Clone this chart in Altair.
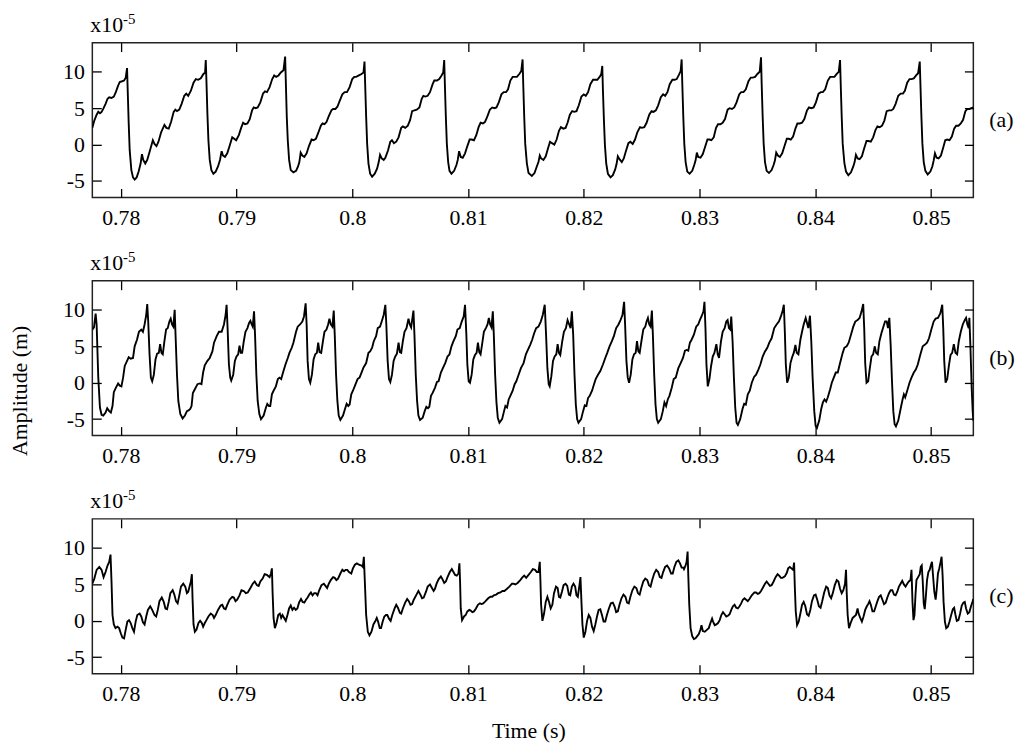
import altair as alt
import pandas as pd

# Time base: readings are stored as sample indices of a 35 kHz record starting at t0
T0 = 0.78
FS = 35000.0

# Panel (a): (sample index, amplitude in 1e-5 m)
a_pts = [
    (-86, 2.3), (-80, 3.3), (-73, 4.1), (-68, 4.5), (-63, 4.3), (-58, 4.5), (-53, 4.9), (-46, 5.6),
    (-40, 6.3), (-35, 6.5), (-28, 6.4), (-21, 6.6), (-15, 7.2), (-8, 8.1), (-3, 8.6), (4, 8.7),
    (10, 8.8), (15, 9.2), (19, 10.5),
    (21, 7.4), (24, 2.9), (27, -0.8), (32, -3.5), (37, -4.5), (42, -4.8), (48, -4.5), (54, -3.7),
    (60, -2.6), (64, -1.3), (68, -2.1), (74, -2.6), (80, -2.1), (87, -1.0), (97, 0.6), (102, 0.1),
    (108, -0.2), (114, 0.4), (122, 1.7), (132, 2.7), (138, 2.3), (145, 2.2), (152, 3.1), (160, 4.5),
    (165, 4.8), (170, 4.6), (177, 4.8), (184, 5.6), (192, 6.7), (198, 7.0), (204, 6.7), (212, 7.4),
    (220, 8.5), (227, 9.0), (234, 8.9), (242, 9.1), (250, 9.7), (255, 9.9), (257, 11.6),
    (259, 8.8), (262, 4.2), (265, 0.6), (269, -2.1), (274, -3.5), (280, -4.0), (287, -3.7), (294, -3.0),
    (300, -2.1), (305, -0.9), (309, -1.5), (315, -1.7), (322, -1.2), (329, -0.2), (337, 1.0), (343, 0.8),
    (349, 0.6), (357, 1.3), (364, 2.3), (370, 3.0), (376, 2.8), (383, 2.9), (390, 3.5), (397, 4.7),
    (402, 5.1), (408, 5.0), (414, 5.1), (422, 5.8), (430, 7.0), (436, 7.3), (442, 7.2), (450, 7.9),
    (458, 9.0), (464, 9.5), (470, 9.3), (477, 9.5), (484, 9.9), (492, 10.2), (497, 12.1),
    (499, 8.8), (502, 3.8), (505, 0.6), (509, -2.1), (514, -3.5), (522, -3.8), (530, -3.6), (536, -3.0),
    (540, -2.4), (544, -1.1), (549, -1.5), (555, -1.7), (562, -1.2), (569, -0.2), (577, 0.7), (583, 0.6),
    (590, 0.8), (597, 1.6), (605, 2.6), (610, 2.9), (616, 2.8), (622, 3.1), (629, 3.9), (637, 4.7),
    (642, 4.9), (649, 4.9), (655, 5.2), (662, 6.0), (670, 6.9), (677, 7.2), (684, 7.2), (692, 7.9),
    (700, 9.0), (706, 9.3), (712, 9.3), (720, 9.5), (728, 9.7), (734, 9.9), (737, 11.4),
    (739, 8.3), (742, 3.8), (745, 0.1), (749, -2.6), (754, -4.0), (760, -4.4), (768, -4.0), (775, -3.3),
    (780, -2.4), (784, -1.4), (789, -1.9), (795, -2.1), (800, -1.8), (808, -0.8), (815, 0.4), (820, 0.6),
    (826, 0.2), (833, 0.4), (840, 1.0), (848, 2.3), (853, 2.5), (860, 2.3), (868, 2.6), (875, 3.4),
    (881, 4.6), (888, 4.7), (895, 4.8), (903, 5.1), (910, 6.3), (915, 6.7), (921, 6.6), (928, 6.7),
    (935, 7.2), (943, 8.3), (948, 8.8), (956, 8.8), (963, 9.0), (970, 9.5), (975, 9.9), (978, 11.6),
    (980, 8.3), (983, 3.8), (986, 0.1), (990, -2.4), (994, -3.6), (1000, -4.0), (1008, -3.6), (1015, -2.8),
    (1019, -2.1), (1023, -0.9), (1028, -1.7), (1034, -1.8), (1041, -1.2), (1048, -0.2), (1055, 0.7),
    (1061, 0.7), (1068, 0.6), (1075, 1.3), (1082, 2.4), (1088, 3.0), (1095, 2.9), (1101, 3.1),
    (1108, 3.8), (1116, 4.8), (1123, 5.1), (1130, 5.0), (1136, 5.1), (1143, 5.8), (1151, 6.9),
    (1158, 7.2), (1165, 7.2), (1171, 7.6), (1178, 8.8), (1185, 9.3), (1191, 9.3), (1198, 9.3),
    (1205, 9.7), (1211, 10.1), (1215, 11.7),
    (1217, 8.3), (1220, 3.8), (1223, 0.1), (1228, -2.6), (1233, -3.9), (1243, -4.3), (1251, -3.9),
    (1258, -3.0), (1263, -2.4), (1267, -1.5), (1271, -1.9), (1278, -2.1), (1285, -1.6), (1292, -0.5),
    (1298, 0.4), (1304, 0.2), (1311, 0.0), (1318, 0.7), (1325, 1.9), (1331, 2.4), (1338, 2.2),
    (1345, 2.3), (1351, 3.0), (1358, 4.1), (1365, 4.6), (1371, 4.5), (1378, 4.6), (1385, 5.4),
    (1393, 6.6), (1400, 6.9), (1406, 6.7), (1413, 7.2), (1420, 8.3), (1428, 8.9), (1435, 8.9),
    (1441, 8.9), (1448, 9.3), (1453, 9.7), (1456, 10.8),
    (1458, 7.4), (1461, 3.3), (1464, -0.1), (1468, -2.6), (1473, -4.0), (1481, -4.5), (1488, -4.2),
    (1495, -3.4), (1499, -2.7), (1503, -1.6), (1508, -2.0), (1515, -2.4), (1521, -1.9), (1528, -0.8),
    (1535, 0.2), (1541, 0.4), (1548, 0.1), (1555, 0.7), (1562, 1.7), (1570, 2.4), (1576, 2.3),
    (1583, 2.4), (1590, 3.0), (1598, 4.1), (1605, 4.6), (1611, 4.5), (1618, 4.7), (1625, 5.4),
    (1633, 6.5), (1640, 6.9), (1646, 6.7), (1653, 7.2), (1660, 8.3), (1668, 8.9), (1675, 8.9),
    (1681, 9.0), (1688, 9.6), (1693, 10.1), (1696, 11.7),
    (1698, 8.3), (1701, 3.8), (1704, 0.1), (1708, -2.4), (1713, -3.7), (1720, -4.0), (1728, -3.6),
    (1734, -2.8), (1738, -2.2), (1742, -1.1), (1746, -1.7), (1753, -1.8), (1760, -1.3), (1767, -0.3),
    (1774, 0.7), (1780, 0.7), (1786, 0.6), (1793, 1.0), (1800, 2.3), (1806, 2.8), (1813, 2.8),
    (1820, 3.0), (1827, 3.5), (1835, 4.8), (1841, 5.0), (1848, 4.9), (1855, 5.1), (1862, 5.8),
    (1870, 6.9), (1876, 7.2), (1883, 7.2), (1890, 7.6), (1898, 8.7), (1905, 9.2), (1911, 9.2),
    (1918, 9.3), (1925, 9.7), (1932, 10.0), (1936, 12.0),
    (1938, 8.3), (1941, 3.8), (1944, 0.1), (1948, -2.4), (1953, -3.6), (1960, -3.9), (1968, -3.5),
    (1974, -2.8), (1978, -2.2), (1982, -1.1), (1987, -1.5), (1993, -1.7), (2000, -1.2), (2007, -0.2),
    (2014, 0.8), (2020, 0.8), (2026, 0.7), (2033, 1.1), (2040, 2.2), (2046, 2.9), (2053, 2.9),
    (2060, 3.0), (2067, 3.5), (2075, 4.7), (2081, 5.1), (2088, 5.0), (2095, 5.1), (2102, 5.8),
    (2110, 7.0), (2117, 7.2), (2123, 7.2), (2130, 7.6), (2138, 8.8), (2145, 9.3), (2151, 9.3),
    (2158, 9.3), (2165, 9.7), (2171, 10.0), (2175, 11.6),
    (2177, 8.3), (2180, 3.8), (2183, 0.1), (2188, -2.5), (2193, -3.7), (2200, -4.2), (2208, -3.8),
    (2215, -3.0), (2219, -2.4), (2223, -1.4), (2228, -1.9), (2234, -2.0), (2241, -1.6), (2248, -0.5),
    (2255, 0.5), (2261, 0.5), (2268, 0.4), (2275, 1.0), (2282, 2.0), (2288, 2.5), (2295, 2.4),
    (2302, 2.6), (2309, 3.3), (2316, 4.6), (2323, 4.7), (2330, 4.7), (2336, 4.9), (2343, 5.6),
    (2351, 6.7), (2358, 7.0), (2365, 7.0), (2371, 7.4), (2378, 8.5), (2385, 9.0), (2391, 9.0),
    (2398, 9.1), (2405, 9.5), (2411, 9.8), (2416, 11.4),
    (2418, 8.3), (2421, 3.8), (2424, 0.1), (2428, -2.4), (2433, -3.6), (2440, -4.1), (2448, -3.7),
    (2454, -3.0), (2458, -2.2), (2462, -1.2), (2467, -1.8), (2473, -1.9), (2480, -1.5), (2487, -0.4),
    (2493, 0.6), (2499, 0.7), (2506, 0.6), (2513, 1.1), (2520, 2.2), (2526, 2.6), (2533, 2.6),
    (2540, 2.9), (2547, 3.4), (2554, 4.6), (2560, 4.9), (2566, 4.9), (2572, 5.0), (2578, 5.1),
]

# Panel (b)
b_pts = [
    (-86, 7.3), (-81, 7.6), (-76, 9.5), (-73, 8.0), (-68, 0.7), (-63, -3.4), (-58, -4.4), (-53, -4.5),
    (-46, -4.1), (-41, -3.5), (-35, -3.9), (-30, -4.1), (-25, -3.2), (-21, -1.3), (-15, -0.7), (-8, -0.1),
    (-3, -0.4), (2, -0.5), (7, 0.7), (12, 2.3), (19, 3.0), (24, 3.5), (30, 3.3), (37, 3.4), (42, 5.0),
    (49, 5.9), (55, 7.0), (62, 7.3), (67, 7.0), (72, 8.0), (77, 9.3), (80, 10.8), (83, 8.4), (87, 3.9),
    (91, 0.7), (95, 0.2), (100, 1.1), (105, 3.2), (110, 4.0), (115, 4.1), (119, 5.3), (123, 4.1),
    (127, 3.9), (132, 5.7), (137, 7.3), (142, 7.5), (147, 8.4), (151, 8.8), (155, 8.0), (159, 7.7),
    (163, 10.0), (166, 6.1), (170, 1.1), (174, -2.5), (180, -4.3), (187, -4.9),
    (194, -4.5), (200, -3.9), (205, -3.8), (210, -3.6), (214, -3.2), (218, -1.4), (224, -0.9), (232, -0.2),
    (239, -0.1), (244, -0.2), (249, 1.4), (254, 2.4), (262, 3.0), (269, 3.4), (277, 4.3), (282, 5.5),
    (290, 6.4), (297, 7.0), (305, 7.0), (312, 8.0), (317, 9.3), (320, 10.7), (323, 7.5), (327, 2.5),
    (331, 0.7), (334, 0.3), (340, 1.1), (345, 3.0), (350, 3.6), (355, 3.9), (359, 5.1), (363, 4.1),
    (367, 4.1), (372, 5.7), (377, 7.0), (383, 7.5), (388, 8.2), (392, 8.5), (396, 8.0), (399, 7.7),
    (403, 9.8), (406, 6.6), (410, 1.1), (414, -2.5), (419, -4.3), (424, -5.0),
    (432, -4.5), (439, -3.4), (443, -2.9), (448, -3.2), (452, -3.2), (457, -1.6), (462, -1.1), (469, -0.5),
    (475, 0.5), (480, 0.7), (485, 0.5), (492, 1.6), (498, 2.5), (505, 3.4), (510, 4.1), (517, 4.8),
    (522, 5.5), (530, 7.0), (535, 7.7), (542, 8.0), (549, 8.4), (554, 9.1), (559, 10.9), (562, 8.0),
    (565, 3.0), (569, 0.5), (573, 0.0), (578, 1.1), (583, 3.2), (588, 3.9), (593, 4.1), (597, 5.5),
    (601, 4.2), (606, 4.1), (612, 5.9), (616, 7.0), (622, 7.3), (627, 8.0), (631, 8.8), (635, 8.0),
    (640, 7.7), (644, 9.9), (647, 6.6), (651, 1.1), (655, -2.5), (659, -4.5), (664, -5.1),
    (672, -4.5), (678, -3.6), (683, -2.9), (688, -3.2), (692, -3.0), (697, -1.6), (702, -1.1), (710, -0.2),
    (716, 0.5), (722, 0.7), (728, 1.4), (734, 2.1), (742, 2.7), (749, 4.1), (754, 4.3), (760, 4.8),
    (765, 5.7), (772, 6.4), (777, 7.5), (784, 7.7), (789, 8.4), (795, 9.3), (800, 10.7), (803, 8.0),
    (807, 3.0), (811, 0.5), (815, 0.1), (820, 1.1), (825, 3.0), (830, 3.6), (835, 4.0), (840, 5.5),
    (844, 4.2), (848, 4.1), (853, 5.7), (858, 7.0), (864, 7.5), (870, 8.8), (874, 8.0), (878, 7.6),
    (885, 9.9), (888, 6.6), (892, 1.1), (896, -2.5), (900, -4.5), (905, -5.1),
    (913, -4.8), (919, -3.9), (924, -3.3), (929, -3.5), (933, -3.3), (938, -1.8), (943, -1.4), (950, -0.7),
    (956, 0.1), (961, 0.2), (968, 1.4), (974, 2.0), (981, 2.7), (988, 3.6), (994, 3.9), (1000, 5.0),
    (1006, 5.7), (1013, 6.4), (1018, 7.3), (1025, 7.5), (1031, 8.4), (1037, 9.1), (1041, 10.7),
    (1045, 6.6), (1048, 2.5), (1052, 0.2), (1056, 0.0), (1061, 1.1), (1066, 3.2), (1071, 3.8),
    (1076, 4.1), (1080, 5.5), (1084, 4.2), (1088, 3.9), (1094, 5.7), (1098, 7.0), (1104, 7.5),
    (1109, 8.0), (1113, 8.9), (1117, 8.0), (1121, 7.6), (1125, 9.8), (1128, 6.6), (1132, 1.1),
    (1136, -2.7), (1140, -4.8), (1145, -5.5),
    (1153, -5.0), (1159, -3.9), (1163, -3.2), (1168, -3.4), (1173, -2.3), (1178, -1.8), (1185, -1.1),
    (1191, -0.2), (1196, 0.2), (1203, 1.1), (1210, 2.0), (1218, 2.7), (1225, 3.9), (1231, 4.5),
    (1238, 5.2), (1244, 5.9), (1250, 6.8), (1256, 7.5), (1263, 7.7), (1270, 8.4), (1276, 9.3),
    (1282, 10.7), (1286, 6.6), (1290, 2.0), (1294, -0.2), (1297, -0.5), (1302, 0.9), (1307, 3.0),
    (1312, 3.6), (1317, 3.9), (1321, 5.3), (1325, 4.1), (1329, 3.8), (1335, 5.7), (1340, 7.0),
    (1346, 7.5), (1351, 8.6), (1356, 8.0), (1360, 7.5), (1364, 9.8), (1368, 6.6), (1372, 1.1),
    (1376, -3.0), (1380, -5.0), (1384, -5.5),
    (1392, -5.0), (1398, -3.9), (1403, -3.1), (1408, -3.2), (1413, -2.1), (1418, -1.8), (1425, -1.1),
    (1431, -0.2), (1436, 0.5), (1443, 1.1), (1450, 1.6), (1458, 2.5), (1465, 3.4), (1471, 4.1),
    (1478, 5.0), (1485, 5.7), (1491, 6.4), (1498, 7.5), (1505, 8.0), (1511, 8.6), (1517, 9.3),
    (1522, 11.1), (1525, 8.0), (1529, 3.0), (1533, 0.7), (1537, 0.0), (1542, 1.1), (1547, 3.2),
    (1552, 3.9), (1557, 4.1), (1561, 5.7), (1565, 4.3), (1569, 4.1), (1575, 5.9), (1580, 7.3),
    (1586, 7.7), (1590, 8.4), (1594, 8.9), (1598, 8.0), (1602, 7.7), (1606, 9.9), (1609, 6.6),
    (1613, 1.1), (1617, -3.0), (1621, -5.0), (1625, -5.5),
    (1633, -5.0), (1639, -3.9), (1644, -2.7), (1649, -3.2), (1654, -2.3), (1659, -1.8), (1666, -0.7),
    (1672, 0.5), (1678, 0.7), (1686, 2.0), (1693, 2.7), (1700, 3.4), (1706, 4.4), (1711, 4.5),
    (1716, 4.4), (1721, 5.5), (1726, 5.9), (1733, 6.6), (1740, 7.7), (1746, 8.0), (1751, 8.6),
    (1757, 9.2), (1762, 9.8), (1765, 11.1), (1768, 7.5), (1771, 2.5), (1775, -0.5), (1780, 0.5),
    (1785, 2.3), (1790, 3.6), (1795, 4.1), (1801, 5.3), (1805, 3.9), (1809, 3.4), (1815, 5.7),
    (1820, 7.0), (1826, 7.5), (1831, 8.4), (1835, 8.6), (1839, 7.5), (1843, 7.3), (1846, 9.1),
    (1850, 5.7), (1854, 0.7), (1858, -3.4), (1862, -5.5), (1866, -5.8),
    (1873, -5.0), (1880, -3.6), (1885, -2.9), (1890, -3.0), (1896, -1.6), (1902, -1.1), (1908, 0.0),
    (1915, 0.8), (1921, 1.1), (1928, 1.8), (1934, 2.5), (1941, 3.6), (1948, 4.3), (1955, 4.8),
    (1961, 5.5), (1968, 6.1), (1976, 7.5), (1983, 8.0), (1990, 8.4), (1996, 9.1), (2001, 9.8),
    (2005, 10.7), (2008, 7.0), (2011, 2.5), (2015, 0.0), (2020, 0.7), (2025, 2.7), (2030, 3.5),
    (2035, 4.1), (2040, 5.2), (2044, 4.1), (2049, 3.9), (2055, 5.9), (2060, 7.0), (2065, 8.0),
    (2071, 8.9), (2075, 8.2), (2079, 7.5), (2084, 9.2), (2088, 5.7), (2092, 0.7), (2097, -3.9),
    (2101, -5.9), (2105, -6.2),
    (2112, -5.2), (2118, -3.6), (2123, -2.7), (2128, -2.3), (2133, -2.6), (2138, -2.0), (2145, -0.9),
    (2150, 0.0), (2156, 0.7), (2162, 1.4), (2168, 1.4), (2175, 2.7), (2183, 4.1), (2188, 4.8),
    (2195, 5.0), (2201, 5.5), (2208, 6.6), (2215, 7.7), (2221, 8.4), (2228, 8.6), (2234, 8.9),
    (2240, 9.8), (2245, 10.8), (2248, 7.5), (2251, 2.7), (2255, 0.0), (2260, 0.2), (2265, 2.0),
    (2270, 3.6), (2275, 3.9), (2280, 5.0), (2284, 4.1), (2289, 3.9), (2294, 5.7), (2300, 6.8),
    (2306, 7.7), (2311, 8.4), (2316, 8.4), (2320, 7.5), (2324, 8.9), (2328, 5.2), (2332, 0.2),
    (2336, -3.9), (2340, -5.7), (2344, -6.0),
    (2351, -5.2), (2358, -3.6), (2364, -2.3), (2368, -1.6), (2372, -2.0), (2378, -1.1), (2385, 0.0),
    (2391, 0.7), (2398, 1.4), (2404, 1.8), (2410, 2.5), (2418, 3.9), (2425, 5.0), (2431, 5.2),
    (2438, 5.5), (2444, 6.1), (2451, 7.3), (2458, 8.4), (2464, 8.8), (2471, 8.9), (2478, 9.5),
    (2484, 10.7), (2487, 7.5), (2490, 3.0), (2494, 0.0), (2499, 0.5), (2504, 2.3), (2509, 3.8),
    (2514, 4.1), (2519, 5.3), (2524, 4.1), (2529, 3.9), (2534, 5.7), (2540, 7.0), (2546, 8.0),
    (2552, 8.6), (2556, 8.9), (2560, 8.0), (2564, 7.5), (2566, 8.9), (2569, 5.2), (2573, -0.7),
    (2576, -3.9), (2578, -5.2),
]

# Panel (c)
c_pts = [
    (-86, 5.1), (-80, 5.8), (-73, 7.0), (-65, 7.4), (-58, 7.0), (-52, 6.0), (-46, 6.7), (-40, 7.6),
    (-35, 8.1), (-31, 9.1), (-28, 5.4), (-25, 0.8), (-21, -0.5), (-16, -1.0), (-10, -0.8), (-5, -1.0),
    (0, -1.7), (5, -2.3), (10, -2.4), (15, -1.2), (20, -0.1), (25, 0.1), (30, -0.3), (35, -1.0),
    (40, -1.5), (45, -0.1), (50, 0.8), (57, 1.0), (62, 0.6), (67, -0.2), (72, -0.5), (77, 0.6),
    (82, 1.5), (89, 2.0), (95, 1.5), (102, 0.8), (107, 0.6), (112, 1.5), (117, 2.7), (124, 3.2),
    (130, 2.6), (135, 1.7), (140, 1.6), (145, 2.6), (150, 3.8), (157, 4.2), (162, 3.6), (167, 2.7),
    (172, 2.4), (177, 3.5), (182, 4.7), (189, 5.1), (195, 4.7), (200, 3.8), (204, 4.0), (208, 4.7),
    (212, 5.4), (215, 6.4), (217, 3.1), (220, -0.5), (224, -1.5), (229, -1.2), (235, -0.3), (240, 0.0),
    (245, -0.3), (249, -0.8), (254, -0.3), (259, 0.1), (265, 0.6), (272, 1.0), (278, 0.8), (282, 0.4),
    (287, 0.8), (294, 1.5), (302, 2.1), (307, 2.2), (312, 1.7), (317, 1.6), (322, 2.2), (329, 2.9),
    (337, 3.3), (342, 3.2), (347, 2.7), (352, 2.9), (359, 3.5), (365, 4.2), (372, 4.1), (378, 3.8),
    (384, 3.9), (392, 4.5), (399, 5.1), (405, 5.4), (412, 4.9), (417, 4.8), (422, 5.4), (429, 5.8),
    (435, 6.4), (442, 6.3), (450, 6.0), (454, 6.5), (457, 7.2), (459, 4.0), (462, 0.4), (466, -1.0),
    (471, -0.3), (476, 0.8), (481, 1.0), (485, 0.4), (489, 0.8), (494, 0.4), (499, 0.0), (504, 0.8),
    (509, 1.7), (514, 2.1), (519, 1.5), (524, 1.8), (529, 1.5), (534, 1.7), (539, 2.5), (545, 3.0),
    (550, 2.6), (555, 2.5), (560, 2.9), (565, 3.2), (570, 3.6), (575, 3.9), (580, 3.5), (585, 3.8),
    (590, 3.8), (595, 3.5), (600, 4.2), (607, 4.9), (614, 5.1), (619, 4.8), (624, 4.5), (629, 5.1),
    (635, 5.6), (642, 6.0), (647, 5.9), (652, 5.6), (657, 5.8), (664, 6.5), (670, 7.0), (675, 6.8),
    (680, 7.0), (685, 7.0), (690, 6.7), (697, 6.5), (702, 7.2), (708, 7.7), (714, 7.9), (720, 7.7),
    (728, 7.6), (732, 7.4), (735, 8.8), (738, 5.4), (742, 0.8), (747, -1.5), (752, -2.0), (758, -1.5),
    (764, -0.5), (769, -0.1), (774, 0.4), (778, -0.1), (783, -1.0), (787, -1.0), (792, -0.1), (797, 0.6),
    (802, 0.8), (806, 0.8), (811, 0.3), (816, 0.0), (821, 0.8), (828, 1.7), (833, 2.2), (838, 1.8),
    (844, 1.1), (848, 1.0), (853, 1.7), (860, 2.5), (866, 3.0), (871, 2.7), (876, 2.2), (881, 2.3),
    (886, 2.9), (893, 3.5), (900, 4.1), (906, 3.6), (911, 3.1), (916, 3.2), (923, 4.0), (928, 4.7),
    (935, 5.0), (941, 4.5), (946, 4.1), (950, 4.4), (955, 5.1), (961, 5.7), (968, 6.1), (973, 5.7),
    (978, 5.2), (983, 5.4), (988, 6.0), (995, 6.7), (1001, 7.1), (1006, 6.7), (1011, 6.3), (1016, 6.2),
    (1021, 6.5), (1024, 7.9), (1026, 5.4), (1028, 1.7), (1032, 0.1), (1038, 0.6), (1043, 0.8),
    (1048, 1.3), (1054, 1.5), (1058, 1.4), (1063, 1.2), (1068, 1.3), (1074, 1.7), (1080, 2.2),
    (1086, 2.4), (1091, 2.3), (1096, 2.4), (1103, 2.7), (1111, 3.1), (1118, 3.3), (1123, 3.3),
    (1128, 3.5), (1135, 3.6), (1141, 3.8), (1148, 3.9), (1154, 4.1), (1160, 4.1), (1168, 4.4),
    (1175, 4.7), (1183, 5.1), (1188, 5.1), (1193, 5.0), (1200, 5.2), (1208, 5.6), (1215, 6.0),
    (1220, 6.2), (1226, 5.9), (1233, 6.3), (1240, 6.7), (1246, 7.1), (1253, 7.0), (1258, 6.7),
    (1263, 6.7), (1267, 8.1), (1269, 5.4), (1271, 2.2), (1275, 0.0), (1280, 1.0), (1285, 2.6),
    (1290, 3.3), (1295, 2.6), (1300, 1.7), (1305, 2.2), (1310, 3.8), (1316, 4.7), (1321, 4.5),
    (1325, 3.3), (1329, 3.2), (1334, 4.0), (1339, 4.9), (1345, 5.1), (1350, 4.8), (1355, 3.6),
    (1359, 3.5), (1364, 4.7), (1369, 5.1), (1374, 4.7), (1378, 3.5), (1382, 3.3), (1387, 4.9),
    (1390, 6.0), (1393, 2.6), (1396, -0.5), (1400, -2.3), (1405, -1.5), (1410, 0.0), (1415, 0.8),
    (1420, 0.4), (1425, -0.8), (1430, -1.4), (1435, -0.5), (1440, 0.6), (1445, 1.5), (1450, 1.6),
    (1455, 0.8), (1460, -0.1), (1465, -0.1), (1470, 0.8), (1476, 1.7), (1482, 2.4), (1488, 2.5),
    (1493, 2.0), (1498, 1.2), (1503, 1.3), (1508, 2.2), (1514, 3.1), (1520, 3.6), (1526, 3.3),
    (1531, 2.5), (1536, 2.4), (1541, 3.3), (1547, 4.2), (1553, 4.7), (1559, 4.5), (1564, 3.8),
    (1569, 3.6), (1574, 4.5), (1580, 5.4), (1586, 5.8), (1592, 5.6), (1597, 4.9), (1602, 4.7),
    (1607, 5.6), (1613, 6.5), (1619, 7.0), (1625, 6.7), (1630, 6.0), (1635, 5.9), (1640, 6.7),
    (1646, 7.4), (1652, 7.6), (1658, 7.2), (1664, 6.5), (1669, 6.5), (1674, 7.4), (1680, 8.1),
    (1686, 8.3), (1691, 7.9), (1696, 7.3), (1701, 7.3), (1703, 7.1), (1708, 7.6), (1711, 8.1),
    (1714, 9.5), (1716, 6.3), (1719, 2.2), (1723, -1.0), (1728, -2.1), (1733, -2.5), (1738, -2.4),
    (1743, -2.1), (1748, -1.8), (1753, -1.2), (1756, -0.6), (1760, -1.4), (1766, -1.5), (1773, -1.2),
    (1778, -1.0), (1783, -0.3), (1788, 0.3), (1791, -0.1), (1796, -0.6), (1801, -0.5), (1806, -0.3),
    (1811, 0.1), (1816, 0.8), (1821, 1.2), (1826, 0.9), (1831, 0.6), (1836, 0.7), (1841, 0.9),
    (1846, 1.5), (1851, 2.0), (1856, 2.2), (1861, 1.8), (1866, 1.7), (1871, 2.0), (1876, 2.4),
    (1881, 2.9), (1886, 3.1), (1891, 2.9), (1896, 2.7), (1901, 3.0), (1908, 3.5), (1916, 3.9),
    (1921, 3.9), (1926, 3.7), (1931, 3.8), (1936, 4.1), (1941, 4.5), (1948, 5.1), (1953, 5.4),
    (1958, 5.1), (1963, 4.8), (1968, 4.9), (1974, 5.4), (1980, 6.0), (1986, 6.4), (1991, 6.2),
    (1996, 5.9), (2001, 5.9), (2008, 6.1), (2014, 6.6), (2018, 7.2), (2023, 7.4), (2028, 7.2),
    (2033, 7.0), (2036, 8.0), (2038, 4.9), (2041, 1.3), (2045, -0.6), (2050, -0.1), (2055, 1.0),
    (2060, 2.2), (2065, 2.6), (2070, 2.0), (2075, 0.9), (2080, 0.7), (2085, 1.5), (2090, 2.7),
    (2096, 3.5), (2101, 3.6), (2106, 2.9), (2111, 2.0), (2116, 1.8), (2121, 2.7), (2127, 3.9),
    (2133, 4.7), (2138, 4.5), (2143, 3.5), (2148, 3.1), (2153, 3.8), (2159, 4.9), (2165, 5.6),
    (2170, 5.4), (2175, 4.4), (2180, 3.8), (2185, 4.2), (2190, 5.1), (2193, 7.0), (2195, 4.0),
    (2198, 0.8), (2202, -1.0), (2207, -0.3), (2213, 0.4), (2218, 0.6), (2223, 0.8), (2228, 1.7),
    (2231, 1.0), (2236, 0.4), (2241, -0.1), (2246, 0.6), (2251, 1.5), (2256, 2.0), (2261, 2.4),
    (2264, 2.7), (2268, 2.2), (2273, 1.3), (2278, 1.3), (2283, 2.0), (2288, 2.7), (2293, 3.3),
    (2298, 3.5), (2303, 2.9), (2308, 2.3), (2313, 2.5), (2318, 3.2), (2323, 3.8), (2328, 4.2),
    (2333, 4.2), (2338, 3.6), (2343, 3.5), (2348, 4.0), (2353, 4.7), (2358, 5.1), (2363, 5.5),
    (2368, 5.0), (2373, 4.7), (2378, 5.1), (2383, 5.4), (2388, 5.6), (2391, 7.0), (2394, 2.6),
    (2397, 0.1), (2400, 0.8), (2403, 3.5), (2406, 5.6), (2411, 6.0), (2416, 6.4), (2419, 7.4),
    (2422, 7.6), (2425, 5.4), (2428, 2.4), (2431, 1.6), (2434, 3.1), (2438, 5.6), (2442, 6.7),
    (2446, 7.0), (2450, 7.7), (2453, 8.1), (2456, 6.3), (2460, 4.0), (2464, 2.9), (2467, 4.2),
    (2471, 6.5), (2475, 7.2), (2479, 8.1), (2482, 8.8), (2485, 6.3), (2488, 2.6), (2492, -0.1),
    (2496, -1.0), (2501, -0.8), (2506, -0.1), (2511, 0.8), (2516, 1.6), (2520, 1.8), (2524, 0.8),
    (2528, 0.0), (2533, 0.1), (2538, 1.0), (2543, 2.1), (2548, 2.5), (2552, 2.6), (2556, 1.7),
    (2561, 1.0), (2566, 1.2), (2571, 2.0), (2576, 2.7), (2578, 3.0),
]

x_ticks = [0.78, 0.79, 0.8, 0.81, 0.82, 0.83, 0.84, 0.85]
y_ticks = [-5, 0, 5, 10]
panel_tags = ["(a)", "(b)", "(c)"]
x_domain = [T0 - 86 / FS, T0 + 2578 / FS]
y_domain = [-7.25, 14.0]

FONT = "Liberation Serif"
FS_TXT = 22
W, H = 888, 156
TICK = 9


def to_frame(pts):
    return pd.DataFrame({
        "t": [T0 + n / FS for n, _ in pts],
        "amp": [v for _, v in pts],
    })


def txt(s, x, y, size=FS_TXT, align="left", baseline="alphabetic", angle=0, opacity=1.0):
    return alt.Chart(pd.DataFrame({"s": [s]})).mark_text(
        font=FONT, fontSize=size, align=align, baseline=baseline,
        angle=angle, color="black", opacity=opacity
    ).encode(text="s:N", x=alt.value(x), y=alt.value(y))


def axis(orient, values, labels=True, pad=8):
    kw = dict(
        orient=orient, values=values, offset=-TICK, tickSize=TICK, domain=False,
        grid=False, tickColor="black", tickWidth=1.3, title=None, labels=labels,
    )
    if labels:
        kw.update(labelExpr="'' + datum.value", labelFont=FONT, labelFontSize=FS_TXT,
                  labelColor="black", labelPadding=pad, labelFlush=False,
                  labelOverlap=False)
    return alt.Axis(**kw)


def panel(pts, tag, amp_opacity, with_time):
    df = to_frame(pts)
    xs = alt.Scale(domain=x_domain, nice=False, zero=False)
    ys = alt.Scale(domain=y_domain, nice=False, zero=False)
    line = alt.Chart(df).mark_line(color="black", strokeWidth=1.9, clip=True).encode(
        x=alt.X("t:Q", scale=xs, axis=axis("bottom", x_ticks, True, 10)),
        y=alt.Y("amp:Q", scale=ys, axis=axis("left", y_ticks, True, 8)),
    )
    mirror = alt.Chart(df).mark_line(strokeOpacity=0, clip=True).encode(
        x=alt.X("t:Q", scale=xs, axis=axis("top", x_ticks, False)),
        y=alt.Y("amp:Q", scale=ys, axis=axis("right", y_ticks, False)),
    )
    layers = [
        line, mirror,
        txt("x10", -2, -11),
        txt("-5", 31, -19, size=15),
        txt(tag, W + 16, 78, baseline="middle"),
        txt("Amplitude (m)", -73, 111 if amp_opacity > 0 else 78, align="center",
            baseline="middle", angle=270, opacity=amp_opacity),
    ]
    if with_time:
        layers.append(txt("Time (s)", 440, 221, align="center"))
    return alt.layer(*layers).resolve_axis(x="independent", y="independent").properties(
        width=W, height=H
    )


pa = panel(a_pts, panel_tags[0], 0.0, False)
pb = panel(b_pts, panel_tags[1], 1.0, False)
pc = panel(c_pts, panel_tags[2], 0.0, True)

chart = alt.vconcat(pa, pb, pc, spacing=20).properties(
    padding=0, background="white"
).configure_view(stroke="#222222", strokeWidth=1.5)

chart.save("out.html", embed_options={"renderer": "svg", "actions": False})
